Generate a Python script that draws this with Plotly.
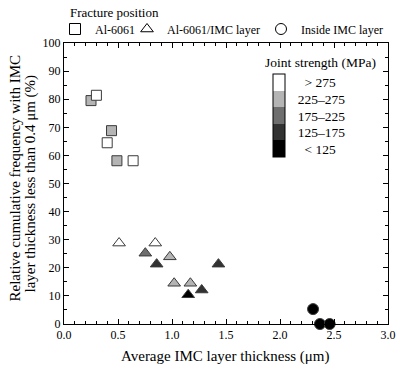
import plotly.graph_objects as go

# ---- data ----
sq_x = [0.25, 0.30, 0.44, 0.40, 0.49, 0.64]
sq_y = [79.5, 81.4, 68.8, 64.5, 58.1, 58.1]
sq_s = [3, 4, 3, 4, 3, 4]  # joint-strength class index

tri_x = [0.51, 0.845, 0.753, 0.858, 0.98, 1.02, 1.17, 1.15, 1.275, 1.43]
tri_y = [28.8, 28.8, 25.2, 21.3, 23.9, 14.5, 14.5, 10.4, 12.1, 21.3]
tri_s = [4, 4, 2, 1, 3, 3, 3, 0, 1, 1]

cir_x = [2.306, 2.37, 2.46]
cir_y = [5.3, 0, 0]
cir_s = [0, 0, 0]

strength_labels = ["< 125", "125\u2013175", "175\u2013225", "225\u2013275", "> 275"]
strength_colors = ["#000000", "#323232", "#6e6e6e", "#b4b4b4", "#ffffff"]
legend_names = ["Al-6061", "Al-6061/IMC layer", "Inside IMC layer"]
legend_title = "Fracture position"
colorbar_title = "Joint strength (MPa)"
x_title = "Average IMC layer thickness (\u03bcm)"
y_title_lines = ["Relative cumulative frequency with IMC", "layer thickness less than 0.4 \u03bcm (%)"]

FONT = "Liberation Serif, Times New Roman, serif"

n = len(strength_colors)
cscale = []
for i, c in enumerate(strength_colors):
    cscale.append([i / n, c])
    cscale.append([(i + 1) / n, c])

fig = go.Figure()
line = dict(color="#3a3a3a", width=1)
for xs, ys, ss, sym, size in [
    (sq_x, sq_y, sq_s, "square", 10),
    (tri_x, tri_y, tri_s, "triangle-up", 11),
    (cir_x, cir_y, cir_s, "circle", 11),
]:
    fig.add_trace(go.Scatter(
        x=xs, y=ys, mode="markers", showlegend=False, cliponaxis=False,
        marker=dict(symbol=sym, size=size, color=ss, coloraxis="coloraxis", line=line),
    ))

legend_ids = ["legend", "legend2", "legend3"]
for name, sym, lg in zip(legend_names, ["square", "triangle-up", "circle"], legend_ids):
    fig.add_trace(go.Scatter(
        x=[None], y=[None], mode="markers", name=name, legend=lg,
        marker=dict(symbol=sym, size=11, color="white", line=dict(color="black", width=1)),
    ))

axis_common = dict(
    showline=True, linecolor="black", linewidth=1, mirror="allticks",
    ticks="inside", ticklen=5, tickcolor="black", showgrid=False, zeroline=False,
    tickfont=dict(family=FONT, size=12, color="black"),
)
fig.update_xaxes(range=[0, 3], dtick=0.5, tickformat=".1f",
                 minor=dict(dtick=0.1, ticks="inside", ticklen=3, tickcolor="black"),
                 **axis_common)
fig.update_yaxes(range=[0, 100], dtick=10,
                 minor=dict(dtick=5, ticks="inside", ticklen=3, tickcolor="black"),
                 **axis_common)

# plot area in pixels: left 64, right 388, top 43, bottom 324
PL, PR, PT, PB = 64, 388, 43, 324
def px(xp):
    return (xp - PL) / (PR - PL)
def py(yp):
    return (PB - yp) / (PB - PT)

def leg(xpx):
    return dict(
        orientation="h", x=xpx / 400, y=1 - 29 / 370, xref="container", yref="container",
        xanchor="left", yanchor="middle", font=dict(family=FONT, size=12, color="black"),
        itemwidth=30, bgcolor="rgba(0,0,0,0)", borderwidth=0,
    )

ticktext = [("\u2002" + t if len(t) < 6 else t) for t in strength_labels]

annotations = [
    dict(text=colorbar_title, x=px(320), y=py(62.7), xref="paper", yref="paper",
         xanchor="center", yanchor="middle", showarrow=False,
         font=dict(family=FONT, size=13.5, color="black")),
    dict(text=legend_title, x=px(68), y=py(13), xref="paper", yref="paper",
         xanchor="left", yanchor="middle", showarrow=False,
         font=dict(family=FONT, size=13, color="black")),
    dict(text=x_title, x=px(225.5), y=py(356.5), xref="paper", yref="paper",
         xanchor="center", yanchor="middle", showarrow=False,
         font=dict(family=FONT, size=15, color="black")),
]
for txt, xc, yc in zip(y_title_lines, [14.5, 29.5], [178, 184]):
    annotations.append(dict(
        text=txt, x=px(xc), y=py(yc), xref="paper", yref="paper", textangle=-90,
        xanchor="center", yanchor="middle", showarrow=False,
        font=dict(family=FONT, size=15, color="black")))

fig.update_layout(
    width=400, height=370,
    margin=dict(l=PL, r=400 - PR, t=PT, b=370 - PB, autoexpand=False),
    paper_bgcolor="white", plot_bgcolor="white",
    font=dict(family=FONT, size=13, color="black"),
    coloraxis=dict(
        colorscale=cscale, cmin=-0.5, cmax=4.5,
        colorbar=dict(
            x=px(272.7), xanchor="left", y=py(115.8), yanchor="middle",
            lenmode="pixels", len=83, thickness=12, xpad=0, ypad=0,
            outlinecolor="black", outlinewidth=1,
            tickvals=list(range(n)), ticktext=ticktext,
            ticks="outside", ticklen=10, tickcolor="rgba(0,0,0,0)",
            tickfont=dict(family=FONT, size=13.5, color="black"),
        ),
    ),
    legend=leg(55), legend2=leg(127), legend3=leg(261),
    annotations=annotations,
)

fig.write_html("out.html", config={"displayModeBar": False},
               post_script="document.body.style.margin='0';")
